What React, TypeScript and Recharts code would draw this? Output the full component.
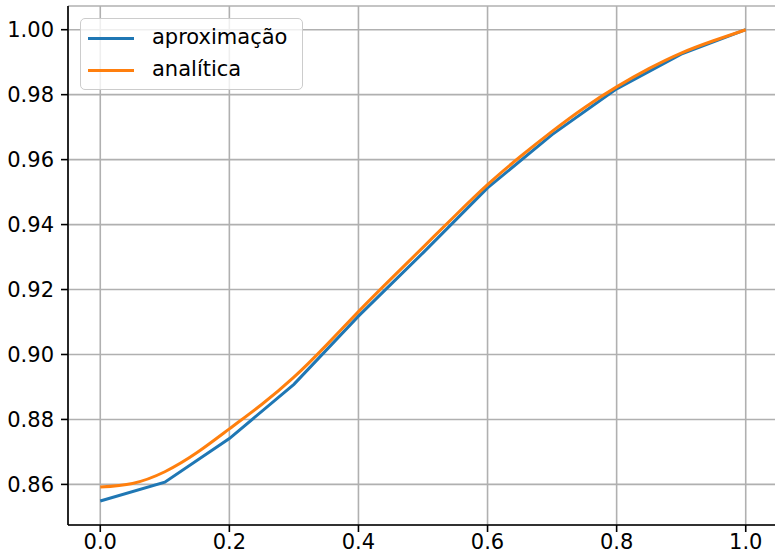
import React from "react";
import { LineChart, Line, XAxis, YAxis, CartesianGrid, Legend } from "recharts";

// Approximation (discrete nodes)
const approxX = [0, 0.1, 0.2, 0.3, 0.4, 0.5, 0.6, 0.7, 0.8, 0.9, 1.0];
const approxY = [0.8549, 0.8607, 0.8741, 0.8908, 0.9118, 0.9313, 0.9513, 0.9677, 0.9818, 0.9925, 1.0];

// Analytic solution
const analyticX = [0, 0.05, 0.1, 0.15, 0.2, 0.25, 0.3, 0.35, 0.4, 0.45, 0.5, 0.55, 0.6, 0.65, 0.7, 0.75, 0.8, 0.85, 0.9, 0.95, 1.0];
const analyticY = [0.8592, 0.8603, 0.8639, 0.8698, 0.8771, 0.8846, 0.893, 0.9028, 0.9132, 0.9232, 0.933, 0.9428, 0.9523, 0.9608, 0.9687, 0.976, 0.9824, 0.988, 0.9928, 0.9966, 1.0];

const xTicks = [0, 0.2, 0.4, 0.6, 0.8, 1.0];
const yTicks = [0.86, 0.88, 0.9, 0.92, 0.94, 0.96, 0.98, 1.0];

const seriesNames = ["aproximação", "analítica"];
const seriesColors = ["#1f77b4", "#ff7f0e"];

const approxData = approxX.map((x, i) => ({ x, y: approxY[i] }));
const analyticData = analyticX.map((x, i) => ({ x, y: analyticY[i] }));

const FONT = "'DejaVu Sans', sans-serif";

const LegendBox = () => (
  <div
    style={{
      width: 223,
      height: 72,
      boxSizing: "border-box",
      border: "1.5px solid #cccccc",
      borderRadius: 5,
      background: "rgba(255,255,255,0.8)",
      position: "relative",
      fontFamily: FONT,
      fontSize: 21,
      color: "#000",
    }}
  >
    {seriesNames.map((n, i) => (
      <div key={n} style={{ position: "absolute", left: 0, top: i === 0 ? 5 : 37, height: 28, width: 223 }}>
        <div
          style={{
            position: "absolute",
            left: 7,
            top: 12.5,
            width: 46,
            height: 3,
            background: seriesColors[i],
          }}
        />
        <span style={{ position: "absolute", left: 71, top: -1, lineHeight: "28px", whiteSpace: "nowrap" }}>{n}</span>
      </div>
    ))}
  </div>
);

export default function App() {
  return (
    <div style={{ position: "absolute", left: 0, top: 0, width: 775, height: 555, overflow: "hidden", background: "#fff" }}>
      <LineChart
        width={780}
        height={555}
        margin={{ top: 6, right: 2, bottom: 0, left: 0 }}
        style={{ fontFamily: FONT }}
      >
        <CartesianGrid stroke="#b0b0b0" strokeWidth={1.6} vertical={true} horizontal={true} />
        <XAxis
          dataKey="x"
          type="number"
          domain={[-0.05, 1.05]}
          ticks={xTicks}
          tickFormatter={(v: number) => v.toFixed(1)}
          allowDataOverflow
          height={30}
          tickSize={7}
          tickMargin={2}
          stroke="#000"
          axisLine={{ stroke: "#000", strokeWidth: 1.6 }}
          tickLine={{ stroke: "#000", strokeWidth: 1.6 }}
          tick={{ fill: "#000", fontSize: 21, fontFamily: FONT }}
        />
        <XAxis
          xAxisId="top"
          orientation="top"
          dataKey="x"
          type="number"
          domain={[-0.05, 1.05]}
          height={0}
          tick={false}
          tickLine={false}
          axisLine={{ stroke: "#000", strokeWidth: 1.6 }}
        />
        <YAxis
          type="number"
          domain={[0.8475, 1.0073]}
          ticks={yTicks}
          tickFormatter={(v: number) => v.toFixed(2)}
          allowDataOverflow
          width={68}
          tickSize={7}
          tickMargin={7}
          axisLine={{ stroke: "#000", strokeWidth: 1.6 }}
          tickLine={{ stroke: "#000", strokeWidth: 1.6 }}
          tick={{ fill: "#000", fontSize: 21, fontFamily: FONT }}
        />
        <YAxis
          yAxisId="right"
          orientation="right"
          type="number"
          domain={[0.8475, 1.0073]}
          width={0}
          tick={false}
          tickLine={false}
          axisLine={{ stroke: "#000", strokeWidth: 1.6 }}
        />
        <Legend
          layout="horizontal"
          verticalAlign="middle"
          align="center"
          content={() => <LegendBox />}
          wrapperStyle={{ position: "absolute", left: 80, top: 18, width: 223, height: 72 }}
        />
        <Line
          data={approxData}
          dataKey="y"
          name={seriesNames[0]}
          stroke={seriesColors[0]}
          strokeWidth={3}
          dot={false}
          type="linear"
          isAnimationActive={false}
        />
        <Line
          data={analyticData}
          dataKey="y"
          name={seriesNames[1]}
          stroke={seriesColors[1]}
          strokeWidth={3}
          dot={false}
          type="natural"
          isAnimationActive={false}
        />
      </LineChart>
    </div>
  );
}
